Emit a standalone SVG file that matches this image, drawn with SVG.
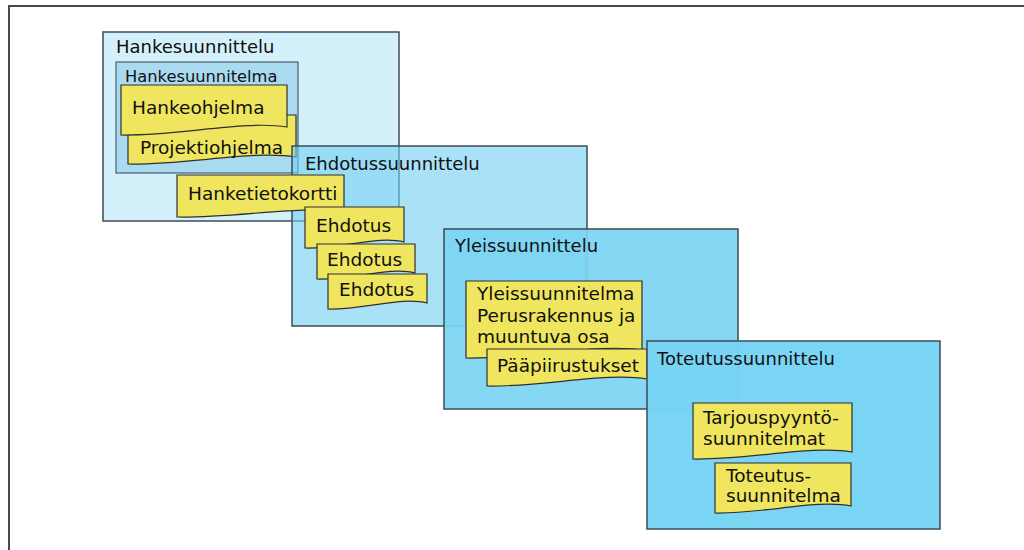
<svg xmlns="http://www.w3.org/2000/svg" width="1024" height="550" viewBox="0 0 1024 550">
<style>
text{font-family:"DejaVu Sans",Verdana,sans-serif;fill:#111}
.t{font-size:18px}
.d{font-size:18.5px}
.box{stroke:#3d4b57;stroke-width:1.5}
.doc{fill:#efe55e;stroke:#2f2f2f;stroke-width:1.2}
</style>
<rect width="1024" height="550" fill="#fff"/>
<rect x="9" y="6" width="1030" height="560" fill="none" stroke="#4a4a4a" stroke-width="2"/>
<g id="hankesuunnittelu">
<rect class="box" x="103" y="32" width="296" height="189" fill="#6fcff2" fill-opacity="0.3"/>
<text class="t" x="116" y="53">Hankesuunnittelu</text>
</g>
<g id="hankesuunnitelma">
<rect x="116" y="62" width="182" height="111" fill="#8ccbe8" fill-opacity="0.6" stroke="#4a6070" stroke-width="1.2"/>
<text x="125" y="82" font-size="16.3">Hankesuunnitelma</text>
</g>
<g id="projektiohjelma">
<path class="doc" d="M128,115 H296 V157 C254,150 187,165 128,164 Z"/>
<text class="d" x="140" y="154">Projektiohjelma</text>
</g>
<g id="hankeohjelma">
<path class="doc" d="M121,85 H287 V127 C245,120 179,136 121,135 Z"/>
<text class="d" x="132" y="114">Hankeohjelma</text>
</g>
<g id="ehdotussuunnittelu">
<rect class="box" x="292" y="146" width="295" height="180" fill="#6fcff2" fill-opacity="0.6"/>
<text class="t" x="305" y="170">Ehdotussuunnittelu</text>
</g>
<g id="hanketietokortti">
<path class="doc" d="M177,175 H344 V212 C302,205 235,218 177,217 Z"/>
<text class="d" x="188" y="200">Hanketietokortti</text>
</g>
<g id="ehdotus1">
<path class="doc" d="M305,207 H404 V242 C379,235 340,249 305,248 Z"/>
<text class="d" x="316" y="232">Ehdotus</text>
</g>
<g id="ehdotus2">
<path class="doc" d="M317,244 H415 V273 C391,266 351,280 317,279 Z"/>
<text class="d" x="327" y="266">Ehdotus</text>
</g>
<g id="ehdotus3">
<path class="doc" d="M328,274 H427 V303 C402,296 363,310 328,309 Z"/>
<text class="d" x="339" y="296">Ehdotus</text>
</g>
<g id="yleissuunnittelu">
<rect class="box" x="444" y="229" width="294" height="180" fill="#7cd4f3" fill-opacity="0.93"/>
<text class="t" x="455" y="252">Yleissuunnittelu</text>
</g>
<g id="yleissuunnitelma">
<path class="doc" d="M466,281 H642 V350 C598,343 528,359 466,358 Z"/>
<text class="d" x="477" y="300">Yleissuunnitelma</text>
<text class="d" x="477" y="322">Perusrakennus ja</text>
<text class="d" x="477" y="343">muuntuva osa</text>
</g>
<g id="paapiirustukset">
<path class="doc" d="M487,349 H647 V379 C607,372 543,387 487,386 Z"/>
<text class="d" x="497" y="372">Pääpiirustukset</text>
</g>
<g id="toteutussuunnittelu">
<rect class="box" x="647" y="341" width="293" height="188" fill="#77d3f4" fill-opacity="0.98"/>
<text class="t" x="657" y="365">Toteutussuunnittelu</text>
</g>
<g id="tarjouspyynto">
<path class="doc" d="M693,403 H852 V452 C812,445 749,460 693,459 Z"/>
<text class="d" x="703" y="424">Tarjouspyyntö-</text>
<text class="d" x="703" y="445">suunnitelmat</text>
</g>
<g id="toteutussuunnitelma">
<path class="doc" d="M715,463 H851 V506 C817,499 763,514 715,513 Z"/>
<text class="d" x="726" y="482">Toteutus-</text>
<text class="d" x="726" y="502">suunnitelma</text>
</g>
<g id="connectors"></g>
</svg>
